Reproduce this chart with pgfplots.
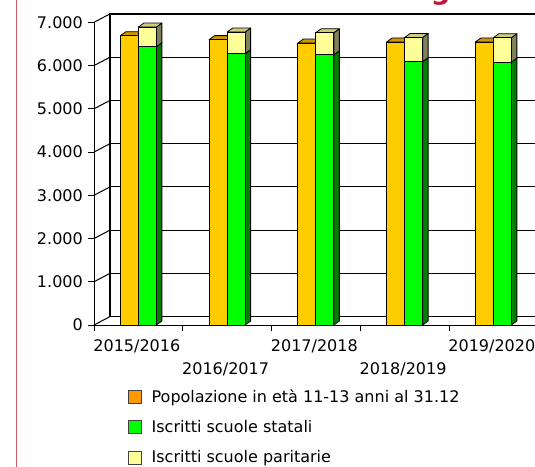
\documentclass[border=0pt]{standalone}
\usepackage{graphicx}
\usepackage{fontspec}
\setmainfont{DejaVu Sans}
\usepackage{pgfplots}
\pgfplotsset{compat=1.18}
\usepackage{pgfplotstable}

\definecolor{popc}{HTML}{FFCC00}
\definecolor{poptop}{HTML}{CC9900}
\definecolor{popside}{HTML}{997300}
\definecolor{statc}{HTML}{00FF00}
\definecolor{stattop}{HTML}{00CC00}
\definecolor{statside}{HTML}{008000}
\definecolor{parc}{HTML}{FFFF99}
\definecolor{partop}{HTML}{CCCC7A}
\definecolor{parside}{HTML}{80805A}
\definecolor{legpop}{HTML}{FF9900}
\definecolor{titlec}{HTML}{C0143C}
\definecolor{framec}{HTML}{D05A6A}

\pgfplotstableread{
x pop stat par tot
0 6690 6435 455 6890
1 6600 6275 500 6775
2 6520 6250 510 6760
3 6545 6090 560 6650
4 6545 6080 565 6645
}\datatable

\newdimen\barh
% #1 left, #2 right (pt, numbers), #3 value height, #4 front, #5 top, #6 side
\newcommand{\prism}[6]{%
  \pgfmathsetlength{\barh}{#3*0.04324pt}%
  \begin{scope}[shift={(-1.9pt,1.7pt)}, line width=0.8pt, line join=round, draw=black]
    \filldraw[fill=#6] (#2pt,0pt) -- ++(5.5pt,4pt) -- ++(0pt,-\barh) -- (#2pt,-\barh) -- cycle;
    \filldraw[fill=#5] (#1pt,0pt) -- (#2pt,0pt) -- ++(5.5pt,4pt) -- ++(#1pt-#2pt,0pt) -- cycle;
    \filldraw[fill=#4] (#1pt,-\barh) rectangle (#2pt,0pt);
  \end{scope}%
}

\pgfplotsset{
  prismplot/.style n args={6}{
    forget plot, scatter, only marks, mark=*, mark size=0.5pt,
    visualization depends on={\thisrow{#1} \as \ry},
    scatter/@pre marker code/.code={\scope\prism{#2}{#3}{\ry}{#4}{#5}{#6}\pgfsetstrokeopacity{0}\pgfsetfillopacity{0}},
    scatter/@post marker code/.code={\endscope},
  },
}

\begin{document}
\begin{tikzpicture}[x=1pt,y=1pt]
\useasboundingbox (0,0) rectangle (535,466);
\clip (0,0) rectangle (535,466);

% frame line
\draw[framec, line width=1.4pt] (16.5,-1) -- (16.5,467);

% title (cut at top)
\node[anchor=base, text=titlec, inner sep=0pt] at (301.5,466.0)
  {\resizebox{439pt}{!}{\bfseries Scuole secondarie di I grado}};

% back plane
\begin{axis}[
  at={(110pt,149.4pt)}, anchor=south west,
  x=88.75pt, y=0.04324pt,
  xmin=-0.5, xmax=5, ymin=0, ymax=7000,
  axis line style={black, line width=1.1pt},
  xtick=\empty, ytick={1000,2000,...,6000}, yticklabels={},
  major tick length=0pt,
  ymajorgrids, grid style={black, line width=1pt},
]
\draw[line width=2pt] (axis cs:-0.5,7000) -- (axis cs:5,7000);
\end{axis}

% front axis with bars
\begin{axis}[
  at={(94pt,141pt)}, anchor=south west,
  x=88.75pt, y=0.04324pt,
  xmin=-0.5, xmax=4.6, ymin=0, ymax=7000,
  clip=false,
  axis lines*=left,
  axis line style={black, line width=1pt, -},
  tick style={black, line width=1pt},
  tick align=outside, major tick length=6pt,
  ytick={0,1000,...,7000},
  /pgf/number format/1000 sep={.},
  /pgf/number format/assume math mode=true,
  yticklabel style={font=\fontsize{16}{19}\selectfont, inner sep=0pt, xshift=-5pt},
  xtick={-0.5,0.5,1.5,2.5,3.5,4.5},
  xticklabels={,,,,,},
  extra x ticks={0,1,2,3,4},
  extra x tick labels={2015/2016,{\mbox{}\\[16pt]2016/2017},2017/2018,{\mbox{}\\[16pt]2018/2019},2019/2020},
  extra x tick style={major tick length=0pt,
    xticklabel style={align=center, font=\fontsize{16}{19}\selectfont, inner sep=0pt, yshift=-14pt, xshift=-1.5pt}},
  legend style={at={(axis description cs:0.074,-0.21)}, anchor=north west, draw=none, fill=none,
    font=\fontsize{16}{19}\selectfont, row sep=14.5pt, inner sep=0pt,
    nodes={inner sep=1pt, anchor=west}},
  legend cell align=left,
  legend image code/.code={\draw[#1, draw=black!75, line width=0.9pt] (0pt,-6.5pt) rectangle (13pt,6.5pt); \path[draw=none,fill=none] (22.5pt,0pt);},
]
\pgfplotsinvokeforeach{0,1000,...,7000}{
  \draw[line width=1pt] (axis cs:-0.5,#1) -- ++(16pt,8.4pt);
}
\addplot[prismplot={pop}{-18}{0}{popc}{poptop}{popside}] table[x=x,y=pop]{\datatable};
\addplot[prismplot={stat}{0}{18}{statc}{stattop}{statside}] table[x=x,y=stat]{\datatable};
\addplot[prismplot={par}{0}{18}{parc}{partop}{parside}] table[x=x,y=tot]{\datatable};

\addlegendimage{fill=legpop}
\addlegendentry{Popolazione in età 11-13 anni al 31.12}
\addlegendimage{fill=statc}
\addlegendentry{Iscritti scuole statali}
\addlegendimage{fill=parc}
\addlegendentry{Iscritti scuole paritarie}
\end{axis}
\end{tikzpicture}
\end{document}
